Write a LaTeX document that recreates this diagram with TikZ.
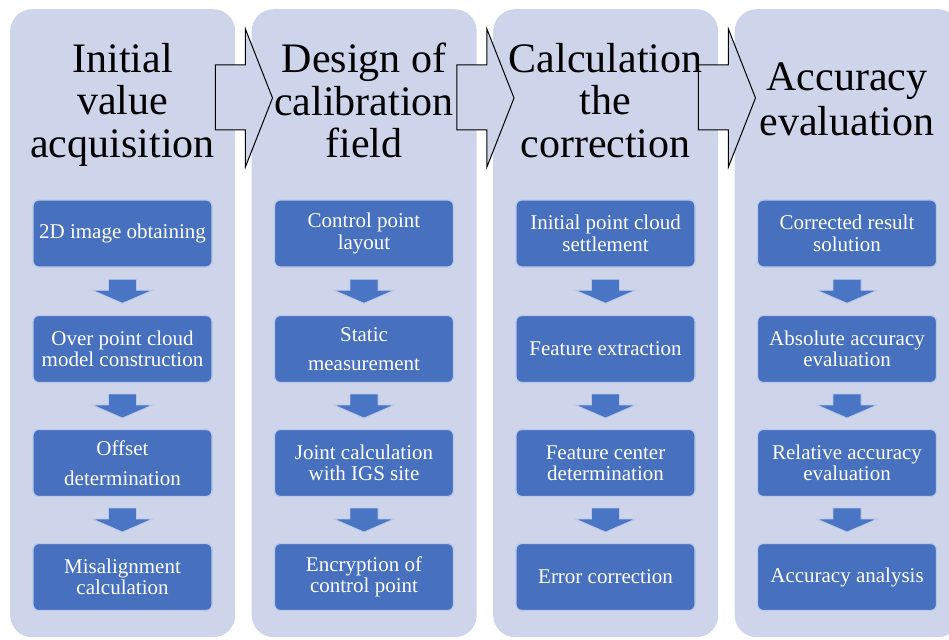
\documentclass[tikz,border=0pt]{standalone}
\usepackage{fontspec}
\setmainfont{Liberation Serif}
\usetikzlibrary{calc}
\definecolor{panelc}{HTML}{CED4EA}
\definecolor{boxc}{HTML}{4770BF}
\definecolor{boxline}{HTML}{B8C8E8}
\definecolor{arrc}{HTML}{4A74C4}
\tikzset{
 panel/.style={draw=none, fill=panelc, rounded corners=22pt, minimum width=225pt, minimum height=628pt, inner sep=0pt, anchor=north west},
 title/.style={font=\fontsize{42}{42.5}\selectfont, align=center, inner sep=0pt, anchor=north, text=black},
 stepbox/.style={fill=boxc, draw=boxline, line width=1.2pt, rounded corners=6pt, minimum width=179pt, minimum height=67pt, inner sep=0pt, text=white, align=center, font=\fontsize{21}{21.5}\selectfont},
 bigarrow/.style={fill=panelc, draw=black, line width=1pt, line join=miter},
 dnarrow/.style={fill=arrc, draw=boxline, line width=0.8pt},
}
\newcommand\dnarr[2]{\draw[dnarrow] ($(#1.south)!0.5!(#2.north)$) ++(-14,-12) -- ++(28,0) -- ++(0,11) -- ++(16,0) -- ++(-30,13) -- ++(-30,-13) -- ++(16,0) -- cycle;}
\newcommand\bigarr[2]{\draw[bigarrow] ($(#1.north east)+(-20,56)$) -- ($(#1.north east)+(10,56)$) -- ($(#1.north east)+(10,20)$) -- ($(#2.north west)+(21,89)$) -- ($(#1.north east)+(10,158)$) -- ($(#1.north east)+(10,121)$) -- ($(#1.north east)+(-20,121)$) -- cycle;}
\begin{document}
\begin{tikzpicture}[x=1pt,y=-1pt]
\useasboundingbox (0,0) rectangle (949,639);
\clip (0,0) rectangle (949,639);
% panels
\node[panel] (p1) at (10,9) {};
\node[panel] (p2) at (251.5,9) {};
\node[panel] (p3) at (493,9) {};
\node[panel] (p4) at (734.5,9) {};
% big arrows
\bigarr{p1}{p2}
\bigarr{p2}{p3}
\bigarr{p3}{p4}
% titles
\node[title] (t1) at (122.5,43) {Initial\\value\\acquisition};
\node[title] (t2) at (364,43) {Design of\\calibration\\field};
\node[title] (t3) at (605.5,43) {Calculation\\the\\correction};
\node[title, font=\fontsize{42}{45}\selectfont] (t4) at (847,63) {Accuracy\\evaluation};
% column 1
\node[stepbox] (a1) at (122.5,233.5) {2D image obtaining};
\node[stepbox] (a2) at (122.5,349) {Over point cloud\\model construction};
\node[stepbox] (a3) at (122.5,463) {Offset\\[8pt]determination};
\node[stepbox] (a4) at (122.5,577) {Misalignment\\calculation};
% column 2
\node[stepbox] (b1) at (364,233.5) {Control point\\layout};
\node[stepbox] (b2) at (364,349) {Static\\[8pt]measurement};
\node[stepbox] (b3) at (364,463) {Joint calculation\\with IGS site};
\node[stepbox] (b4) at (364,577) {Encryption of\\control point};
% column 3
\node[stepbox] (c1) at (605.5,233.5) {Initial point cloud\\settlement};
\node[stepbox] (c2) at (605.5,349) {Feature extraction};
\node[stepbox] (c3) at (605.5,463) {Feature center\\determination};
\node[stepbox] (c4) at (605.5,577) {Error correction};
% column 4
\node[stepbox] (d1) at (847,233.5) {Corrected result\\solution};
\node[stepbox] (d2) at (847,349) {Absolute accuracy\\evaluation};
\node[stepbox] (d3) at (847,463) {Relative accuracy\\evaluation};
\node[stepbox] (d4) at (847,577) {Accuracy analysis};
% down arrows
\dnarr{a1}{a2}\dnarr{a2}{a3}\dnarr{a3}{a4}
\dnarr{b1}{b2}\dnarr{b2}{b3}\dnarr{b3}{b4}
\dnarr{c1}{c2}\dnarr{c2}{c3}\dnarr{c3}{c4}
\dnarr{d1}{d2}\dnarr{d2}{d3}\dnarr{d3}{d4}
\end{tikzpicture}
\end{document}
